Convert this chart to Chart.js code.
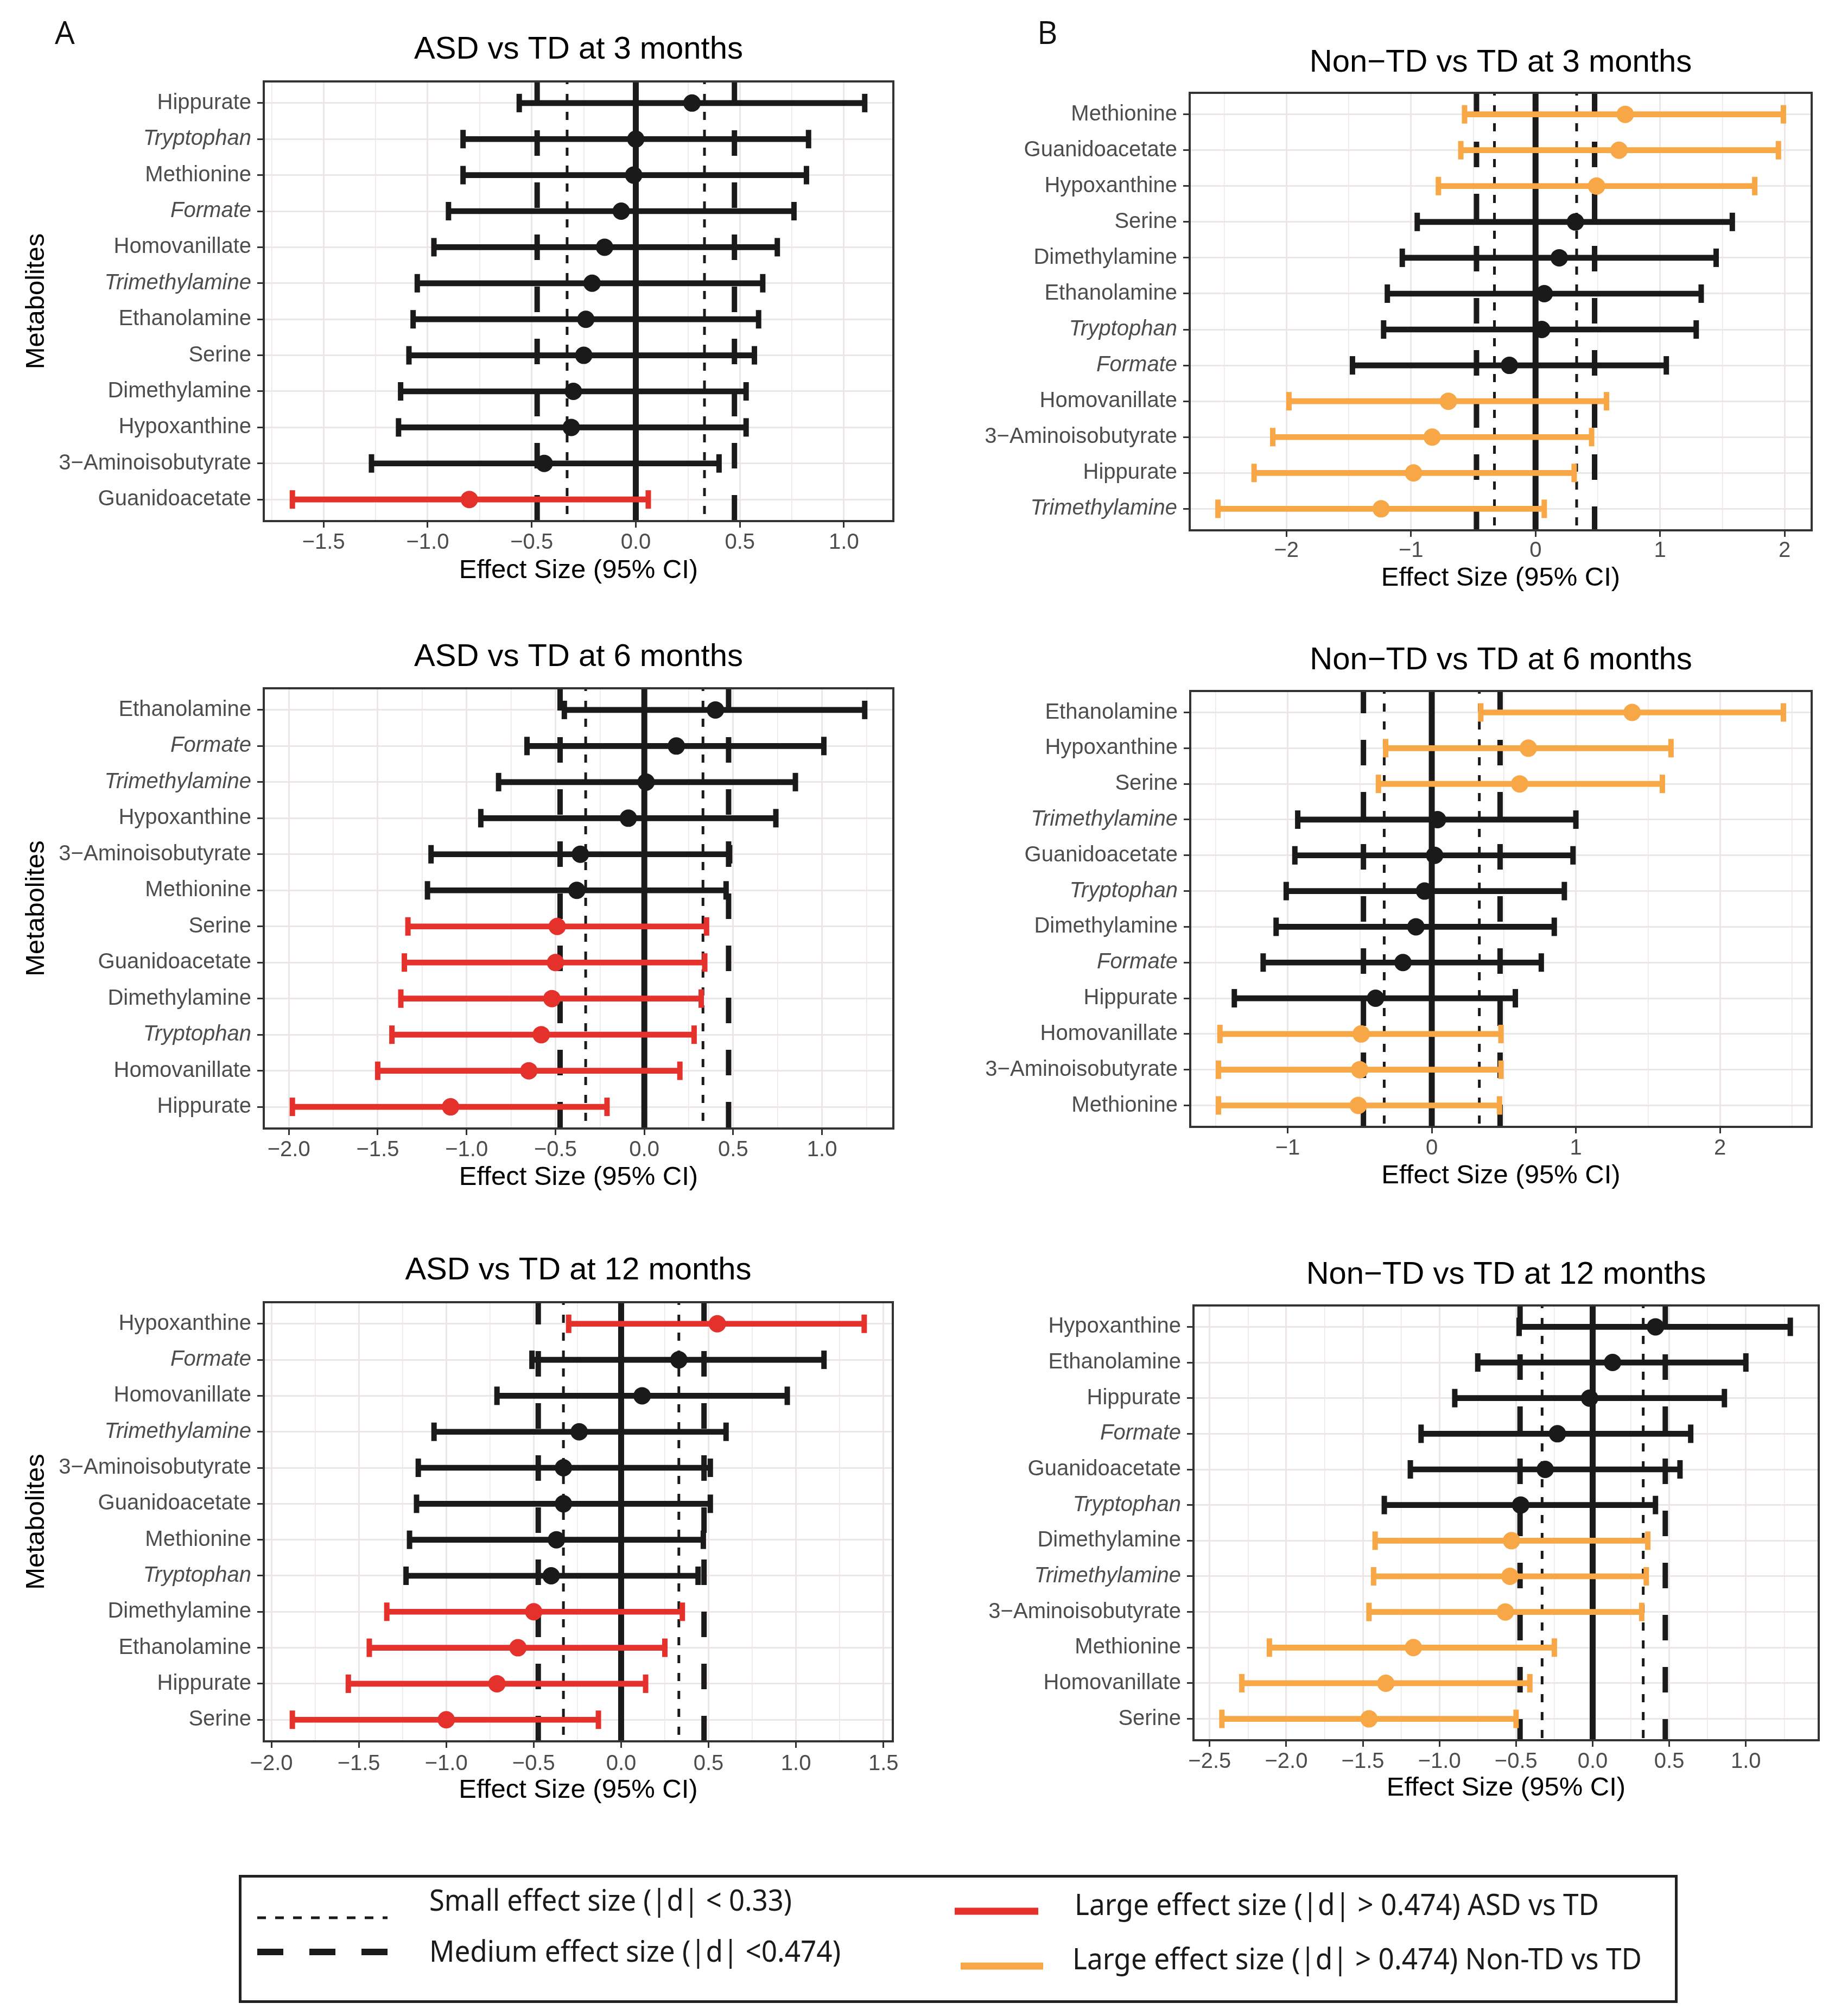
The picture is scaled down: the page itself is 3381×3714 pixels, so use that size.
<!DOCTYPE html>
<html lang="en">
<head>
<meta charset="UTF-8">
<title>Metabolite effect sizes</title>
<script src="https://cdn.jsdelivr.net/npm/chart.js@4.4.1/dist/chart.umd.min.js"></script>
<style>
  html, body { margin: 0; padding: 0; background: #fff; }
  body { position: relative; width: 3381px; height: 3714px; overflow: hidden; }
  canvas { position: absolute; }
  .letter { position: absolute; font-family: 'Open Sans', 'Noto Sans', sans-serif; font-size: 58px; line-height: 1; color: #111; }
  #legend { position: absolute; left: 440px; top: 3454px; }
</style>
</head>
<body>
<div class="letter" style="left:101px;top:30px">A</div>
<div class="letter" style="left:1911px;top:30px">B</div>

<svg id="legend" width="2651" height="236" viewBox="0 0 2651 236" font-family="'Noto Sans', 'Open Sans', sans-serif" font-size="54" fill="#1a1a1a">
  <rect x="2.5" y="2.5" width="2646" height="231" fill="#fff" stroke="#222" stroke-width="5"/>
  <line x1="34" y1="79" x2="274" y2="79" stroke="#1a1a1a" stroke-width="5" stroke-dasharray="16 17"/>
  <line x1="34" y1="142" x2="274" y2="142" stroke="#1a1a1a" stroke-width="12" stroke-dasharray="48 48"/>
  <line x1="1319" y1="67" x2="1473" y2="67" stroke="#e5312c" stroke-width="13"/>
  <line x1="1330" y1="168" x2="1482" y2="168" stroke="#f7a745" stroke-width="13"/>
  <text x="351" y="66" textLength="668" lengthAdjust="spacingAndGlyphs">Small effect size (|d| &lt; 0.33)</text>
  <text x="351" y="160" textLength="758" lengthAdjust="spacingAndGlyphs">Medium effect size (|d| &lt;0.474)</text>
  <text x="1540" y="74" textLength="966" lengthAdjust="spacingAndGlyphs">Large effect size (|d| &gt; 0.474) ASD vs TD</text>
  <text x="1536" y="174" textLength="1049" lengthAdjust="spacingAndGlyphs">Large effect size (|d| &gt; 0.474) Non-TD vs TD</text>
</svg>

<script>
// ---- data (rows listed top to bottom) ----
const names3A = ['Hippurate', 'Tryptophan', 'Methionine', 'Formate', 'Homovanillate', 'Trimethylamine',
  'Ethanolamine', 'Serine', 'Dimethylamine', 'Hypoxanthine', '3\u2212Aminoisobutyrate', 'Guanidoacetate'];
const est3A = [0.27, 0.00, -0.01, -0.07, -0.15, -0.21, -0.24, -0.25, -0.30, -0.31, -0.44, -0.80];
const lo3A = [-0.56, -0.83, -0.83, -0.90, -0.97, -1.05, -1.07, -1.09, -1.13, -1.14, -1.27, -1.65];
const hi3A = [1.10, 0.83, 0.82, 0.76, 0.68, 0.61, 0.59, 0.57, 0.53, 0.53, 0.40, 0.06];
const large3A = [0, 0, 0, 0, 0, 0, 0, 0, 0, 0, 0, 1];
const xTicks3A = [-1.5, -1, -0.5, 0, 0.5, 1];

const names3B = ['Methionine', 'Guanidoacetate', 'Hypoxanthine', 'Serine', 'Dimethylamine', 'Ethanolamine',
  'Tryptophan', 'Formate', 'Homovanillate', '3\u2212Aminoisobutyrate', 'Hippurate', 'Trimethylamine'];
const est3B = [0.72, 0.67, 0.49, 0.32, 0.19, 0.07, 0.05, -0.21, -0.70, -0.83, -0.98, -1.24];
const lo3B = [-0.57, -0.60, -0.78, -0.95, -1.07, -1.19, -1.22, -1.47, -1.98, -2.11, -2.26, -2.55];
const hi3B = [1.99, 1.95, 1.76, 1.58, 1.45, 1.33, 1.29, 1.05, 0.57, 0.45, 0.31, 0.07];
const large3B = [1, 1, 1, 0, 0, 0, 0, 0, 1, 1, 1, 1];
const xTicks3B = [-2, -1, 0, 1, 2];

const names6A = ['Ethanolamine', 'Formate', 'Trimethylamine', 'Hypoxanthine', '3\u2212Aminoisobutyrate', 'Methionine',
  'Serine', 'Guanidoacetate', 'Dimethylamine', 'Tryptophan', 'Homovanillate', 'Hippurate'];
const est6A = [0.40, 0.18, 0.01, -0.09, -0.36, -0.38, -0.49, -0.50, -0.52, -0.58, -0.65, -1.09];
const lo6A = [-0.45, -0.66, -0.82, -0.92, -1.20, -1.22, -1.33, -1.35, -1.37, -1.42, -1.50, -1.98];
const hi6A = [1.24, 1.01, 0.85, 0.74, 0.48, 0.46, 0.35, 0.34, 0.32, 0.28, 0.20, -0.21];
const large6A = [0, 0, 0, 0, 0, 0, 1, 1, 1, 1, 1, 1];
const xTicks6A = [-2, -1.5, -1, -0.5, 0, 0.5, 1];

const names6B = ['Ethanolamine', 'Hypoxanthine', 'Serine', 'Trimethylamine', 'Guanidoacetate', 'Tryptophan',
  'Dimethylamine', 'Formate', 'Hippurate', 'Homovanillate', '3\u2212Aminoisobutyrate', 'Methionine'];
const est6B = [1.39, 0.67, 0.61, 0.04, 0.02, -0.05, -0.11, -0.20, -0.39, -0.49, -0.50, -0.51];
const lo6B = [0.34, -0.32, -0.37, -0.93, -0.95, -1.01, -1.08, -1.17, -1.37, -1.47, -1.48, -1.48];
const hi6B = [2.44, 1.66, 1.60, 1.00, 0.98, 0.92, 0.85, 0.76, 0.58, 0.48, 0.48, 0.47];
const large6B = [1, 1, 1, 0, 0, 0, 0, 0, 0, 1, 1, 1];
const xTicks6B = [-1, 0, 1, 2];

const names12A = ['Hypoxanthine', 'Formate', 'Homovanillate', 'Trimethylamine', '3\u2212Aminoisobutyrate', 'Guanidoacetate',
  'Methionine', 'Tryptophan', 'Dimethylamine', 'Ethanolamine', 'Hippurate', 'Serine'];
const est12A = [0.55, 0.33, 0.12, -0.24, -0.33, -0.33, -0.37, -0.40, -0.50, -0.59, -0.71, -1.00];
const lo12A = [-0.30, -0.51, -0.71, -1.07, -1.16, -1.17, -1.21, -1.23, -1.34, -1.44, -1.56, -1.88];
const hi12A = [1.39, 1.16, 0.95, 0.60, 0.51, 0.51, 0.47, 0.44, 0.35, 0.25, 0.14, -0.13];
const large12A = [1, 0, 0, 0, 0, 0, 0, 0, 1, 1, 1, 1];
const xTicks12A = [-2, -1.5, -1, -0.5, 0, 0.5, 1, 1.5];

const names12B = ['Hypoxanthine', 'Ethanolamine', 'Hippurate', 'Formate', 'Guanidoacetate', 'Tryptophan',
  'Dimethylamine', 'Trimethylamine', '3\u2212Aminoisobutyrate', 'Methionine', 'Homovanillate', 'Serine'];
const est12B = [0.41, 0.13, -0.02, -0.23, -0.31, -0.47, -0.53, -0.54, -0.57, -1.17, -1.35, -1.46];
const lo12B = [-0.48, -0.75, -0.90, -1.12, -1.19, -1.36, -1.42, -1.43, -1.46, -2.11, -2.29, -2.42];
const hi12B = [1.29, 1.00, 0.86, 0.64, 0.57, 0.41, 0.36, 0.35, 0.32, -0.25, -0.41, -0.50];
const large12B = [0, 0, 0, 0, 0, 0, 1, 1, 1, 1, 1, 1];
const xTicks12B = [-2.5, -2, -1.5, -1, -0.5, 0, 0.5, 1];

const italicNames = ['Tryptophan', 'Formate', 'Trimethylamine'];
const effectSmall = 0.33;
const effectMedium = 0.474;
const refValues = [-effectMedium, -effectSmall, 0, effectSmall, effectMedium];

// ---- styling ----
const black = '#1a1a1a';
const asdRed = '#e5312c';
const nonTdOrange = '#f7a745';
const gridColor = '#ece6e9';

Chart.defaults.font.family = "'Liberation Sans', Arial, sans-serif";
Chart.defaults.color = '#4d4d4d';

// dashed / dotted / solid vertical effect-size lines, drawn under the bars
const refLines = {
  id: 'refLines',
  beforeDatasetsDraw(chart) {
    const {ctx, chartArea, scales} = chart;
    ctx.save();
    ctx.beginPath();
    ctx.rect(chartArea.left, chartArea.top, chartArea.width, chartArea.height);
    ctx.clip();
    ctx.strokeStyle = black;
    refValues.forEach(v => {
      const px = scales.x.getPixelForValue(v);
      const a = Math.abs(v);
      if (a === 0) {
        ctx.lineWidth = 11; ctx.setLineDash([]);
      } else if (a === effectSmall) {
        ctx.lineWidth = 5; ctx.setLineDash([15, 18]); ctx.lineDashOffset = 10;
      } else {
        ctx.lineWidth = 10; ctx.setLineDash([47, 49]); ctx.lineDashOffset = 6;
      }
      ctx.beginPath();
      ctx.moveTo(px, chartArea.top);
      ctx.lineTo(px, chartArea.bottom);
      ctx.stroke();
    });
    ctx.restore();
  }
};

const panelBox = {
  id: 'panelBox',
  afterDraw(chart) {
    const {ctx, chartArea: a} = chart;
    ctx.save();
    ctx.strokeStyle = '#333';
    ctx.lineWidth = 4;
    ctx.strokeRect(a.left, a.top, a.width, a.height);
    ctx.restore();
  }
};

// canvas boxes and target plot areas, page pixels
const layoutBoxes = {
  p3a:  {left: 0,    top: 0,    w: 1690, h: 1100, plot: [486, 150, 1646, 960],   titleY: 92,   tickY: 1000, xTitleY: 1051, yTitle: true},
  p3b:  {left: 1690, top: 0,    w: 1691, h: 1100, plot: [2192, 171, 3338, 977],  titleY: 116,  tickY: 1015, xTitleY: 1065, yTitle: false},
  p6a:  {left: 0,    top: 1120, w: 1690, h: 1100, plot: [486, 1268, 1646, 2079], titleY: 1211, tickY: 2119, xTitleY: 2169, yTitle: true},
  p6b:  {left: 1690, top: 1120, w: 1691, h: 1100, plot: [2193, 1273, 3338, 2076], titleY: 1217, tickY: 2116, xTitleY: 2166, yTitle: false},
  p12a: {left: 0,    top: 2260, w: 1690, h: 1120, plot: [486, 2399, 1645, 3208], titleY: 2341, tickY: 3250, xTitleY: 3298, yTitle: true},
  p12b: {left: 1690, top: 2260, w: 1691, h: 1120, plot: [2199, 2405, 3351, 3206], titleY: 2349, tickY: 3246, xTitleY: 3294, yTitle: false}
};

function fmt(v, dec) {
  return (v < 0 ? '\u2212' : '') + Math.abs(v).toFixed(dec);
}

function makePanel(id, title, names, est, lo, hi, large, majors, dec, hiColor) {
  const box = layoutBoxes[id];
  const canvas = document.createElement('canvas');
  canvas.id = id;
  canvas.width = box.w;
  canvas.height = box.h;
  canvas.style.left = box.left + 'px';
  canvas.style.top = box.top + 'px';
  document.body.appendChild(canvas);

  const colors = large.map(f => f ? hiColor : black);
  const lowAll = Math.min(...lo), highAll = Math.max(...hi);
  const pad = (highAll - lowAll) * 0.05;
  const xmin = lowAll - pad, xmax = highAll + pad;
  const step = majors[1] - majors[0];
  const minors = [];
  for (let v = majors[0] - step / 2; v <= majors[majors.length - 1] + step / 2 + 1e-9; v += step) minors.push(v);
  const allTicks = majors.concat(minors).filter(v => v >= xmin && v <= xmax).sort((a, b) => a - b);
  const isMajor = v => majors.some(m => Math.abs(m - v) < 1e-9);

  const [pl, pt, pr, pb] = box.plot;
  const titleTop = box.titleY - box.top - 29;
  const titleBottom = pt - box.top - titleTop - 58;

  return new Chart(canvas, {
    type: 'bar',
    data: {
      datasets: [
        {
          type: 'scatter', order: 0,
          data: est.map((v, i) => ({x: v, y: i})),
          pointRadius: 16, pointBackgroundColor: colors, pointBorderWidth: 0
        },
        {
          type: 'scatter', order: 1,
          data: lo.flatMap((v, i) => [{x: v, y: i}, {x: hi[i], y: i}]),
          pointStyle: 'line', pointRotation: 90, pointRadius: 17, pointBorderWidth: 10,
          pointBorderColor: colors.flatMap(c => [c, c])
        },
        {
          type: 'bar', order: 2,
          data: lo.map((v, i) => ({x: [v, hi[i]], y: i})),
          backgroundColor: colors, barThickness: 10, borderWidth: 0
        }
      ]
    },
    options: {
      indexAxis: 'y',
      responsive: false,
      animation: false,
      devicePixelRatio: 1,
      events: [],
      layout: {padding: {left: 0, top: 0, bottom: 0, right: box.left + box.w - pr}},
      plugins: {
        legend: {display: false},
        tooltip: {enabled: false},
        title: {
          display: true, text: title, fullSize: false, color: '#000',
          font: {size: 58, weight: 'normal', lineHeight: 1},
          padding: {top: titleTop, bottom: titleBottom}
        }
      },
      scales: {
        x: {
          type: 'linear', min: xmin, max: xmax, bounds: 'data',
          afterBuildTicks: ax => { ax.ticks = allTicks.map(v => ({value: v})); },
          afterFit: s => { s.height = box.top + box.h - pb; },
          border: {display: false},
          grid: {
            color: gridColor,
            lineWidth: ctx => (ctx.tick && isMajor(ctx.tick.value)) ? 3 : 1.5,
            tickLength: 12, tickWidth: 3,
            tickColor: ctx => (ctx.tick && isMajor(ctx.tick.value)) ? '#333' : 'rgba(0,0,0,0)'
          },
          ticks: {
            autoSkip: false, maxRotation: 0, minRotation: 0,
            padding: box.tickY - pb - 36,
            color: '#4d4d4d', font: {size: 40},
            callback: v => isMajor(v) ? fmt(v, dec) : ''
          },
          title: {
            display: true, text: 'Effect Size (95% CI)', color: '#000',
            font: {size: 49, lineHeight: 1},
            padding: {top: 0, bottom: box.top + box.h - box.xTitleY - 24.5}
          }
        },
        y: {
          type: 'linear', reverse: true, min: -0.6, max: names.length - 0.4,
          bounds: 'data', offset: false,
          afterBuildTicks: ax => { ax.ticks = names.map((n, i) => ({value: i})); },
          afterFit: s => { s.width = pl - box.left; },
          border: {display: false},
          grid: {offset: false, color: gridColor, lineWidth: 3, tickLength: 12, tickWidth: 3, tickColor: '#333'},
          ticks: {
            autoSkip: false, padding: 11, color: '#4d4d4d',
            callback: v => names[Math.round(v)],
            font: ctx => {
              const n = ctx.tick ? names[Math.round(ctx.tick.value)] : '';
              return {size: 40, style: italicNames.includes(n) ? 'italic' : 'normal'};
            }
          },
          title: {
            display: box.yTitle, text: 'Metabolites', color: '#000',
            font: {size: 49, lineHeight: 1},
            padding: {top: 42.5, bottom: 0}
          }
        }
      }
    },
    plugins: [refLines, panelBox]
  });
}

makePanel('p3a', 'ASD vs TD at 3 months', names3A, est3A, lo3A, hi3A, large3A, xTicks3A, 1, asdRed);
makePanel('p3b', 'Non\u2212TD vs TD at 3 months', names3B, est3B, lo3B, hi3B, large3B, xTicks3B, 0, nonTdOrange);
makePanel('p6a', 'ASD vs TD at 6 months', names6A, est6A, lo6A, hi6A, large6A, xTicks6A, 1, asdRed);
makePanel('p6b', 'Non\u2212TD vs TD at 6 months', names6B, est6B, lo6B, hi6B, large6B, xTicks6B, 0, nonTdOrange);
makePanel('p12a', 'ASD vs TD at 12 months', names12A, est12A, lo12A, hi12A, large12A, xTicks12A, 1, asdRed);
makePanel('p12b', 'Non\u2212TD vs TD at 12 months', names12B, est12B, lo12B, hi12B, large12B, xTicks12B, 1, nonTdOrange);
</script>
</body>
</html>
